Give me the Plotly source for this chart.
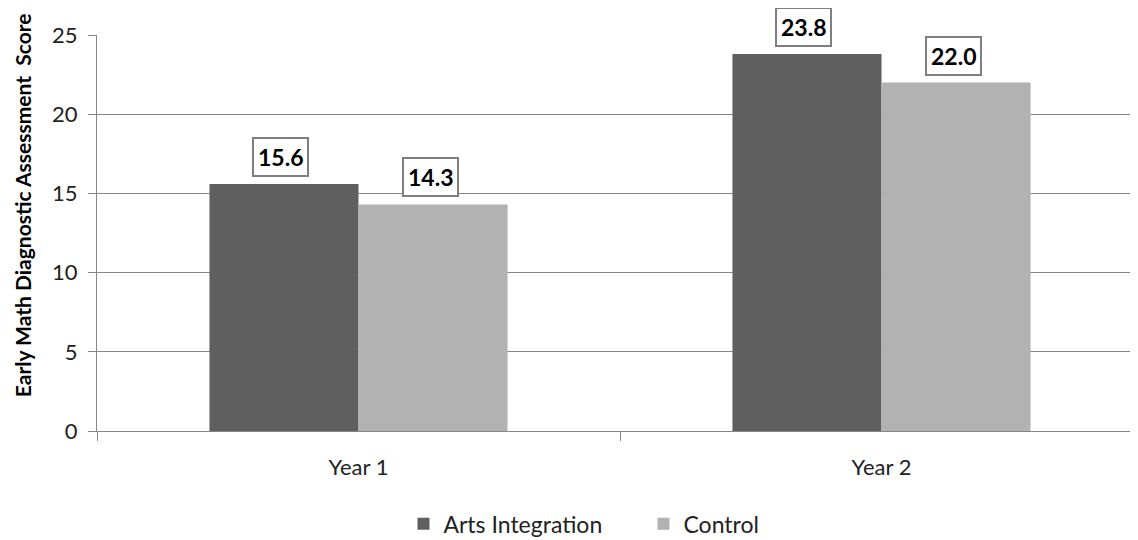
import plotly.graph_objects as go

categories = ["Year 1", "Year 2"]
arts_integration = [15.6, 23.8]
control = [14.3, 22.0]
series_names = ["Arts Integration", "Control"]
y_ticks = [0, 5, 10, 15, 20, 25]
y_title = "Early Math Diagnostic Assessment  Score"

colors = ["#5f5f5f", "#b2b2b2"]
bargap = 0.43
font_family = "Lato, Open Sans, sans-serif"

fig = go.Figure()
for name, vals, col in zip(series_names, [arts_integration, control], colors):
    fig.add_trace(go.Bar(x=categories, y=vals, name=name, marker=dict(color=col, line=dict(width=0))))

# data label boxes above each bar
half = (1 - bargap) / 4
for si, vals in enumerate([arts_integration, control]):
    off = -half if si == 0 else half
    for ci, v in enumerate(vals):
        fig.add_annotation(
            x=ci + off, y=v, xref="x", yref="y", text=f"<b>{v:.1f}</b>",
            showarrow=False, yanchor="bottom", yshift=7, xshift=-3,
            font=dict(size=23, color="#000000", family=font_family),
            bordercolor="#7f7f7f", borderwidth=2, borderpad=4, bgcolor="#ffffff",
        )

# y-axis title (placed slightly above centre as in the original)
fig.add_annotation(
    x=-0.0717, y=0.57, xref="paper", yref="paper", text=f"<b>{y_title}</b>",
    textangle=-90, showarrow=False, xanchor="center", yanchor="middle",
    font=dict(size=21, color="#000000", family=font_family),
)

fig.update_layout(
    width=1138, height=540,
    margin=dict(l=89, r=3, t=27, b=113),
    paper_bgcolor="#ffffff", plot_bgcolor="#ffffff",
    barmode="group", bargap=bargap, bargroupgap=0,
    font=dict(family=font_family, size=22, color="#222222"),
    legend=dict(orientation="h", x=0.293, xanchor="left", y=-0.18, yanchor="top",
                font=dict(size=23), traceorder="normal", itemwidth=30,
                entrywidth=195, entrywidthmode="pixels"),
    showlegend=True,
)
fig.update_xaxes(
    showline=True, linecolor="#868686", linewidth=1, automargin=False,
    ticks="outside", tickson="boundaries", ticklen=9, tickcolor="#868686",
    showgrid=False, tickfont=dict(size=22), ticklabelstandoff=17,
)
fig.update_yaxes(
    range=[0, 25], tickvals=y_ticks, showgrid=True, gridcolor="#868686", gridwidth=1,
    showline=True, linecolor="#868686", linewidth=1, ticks="outside", ticklen=8,
    tickcolor="#868686", zeroline=False, tickfont=dict(size=22), automargin=False,
    ticklabelstandoff=6,
)

fig.write_html("out.html")
